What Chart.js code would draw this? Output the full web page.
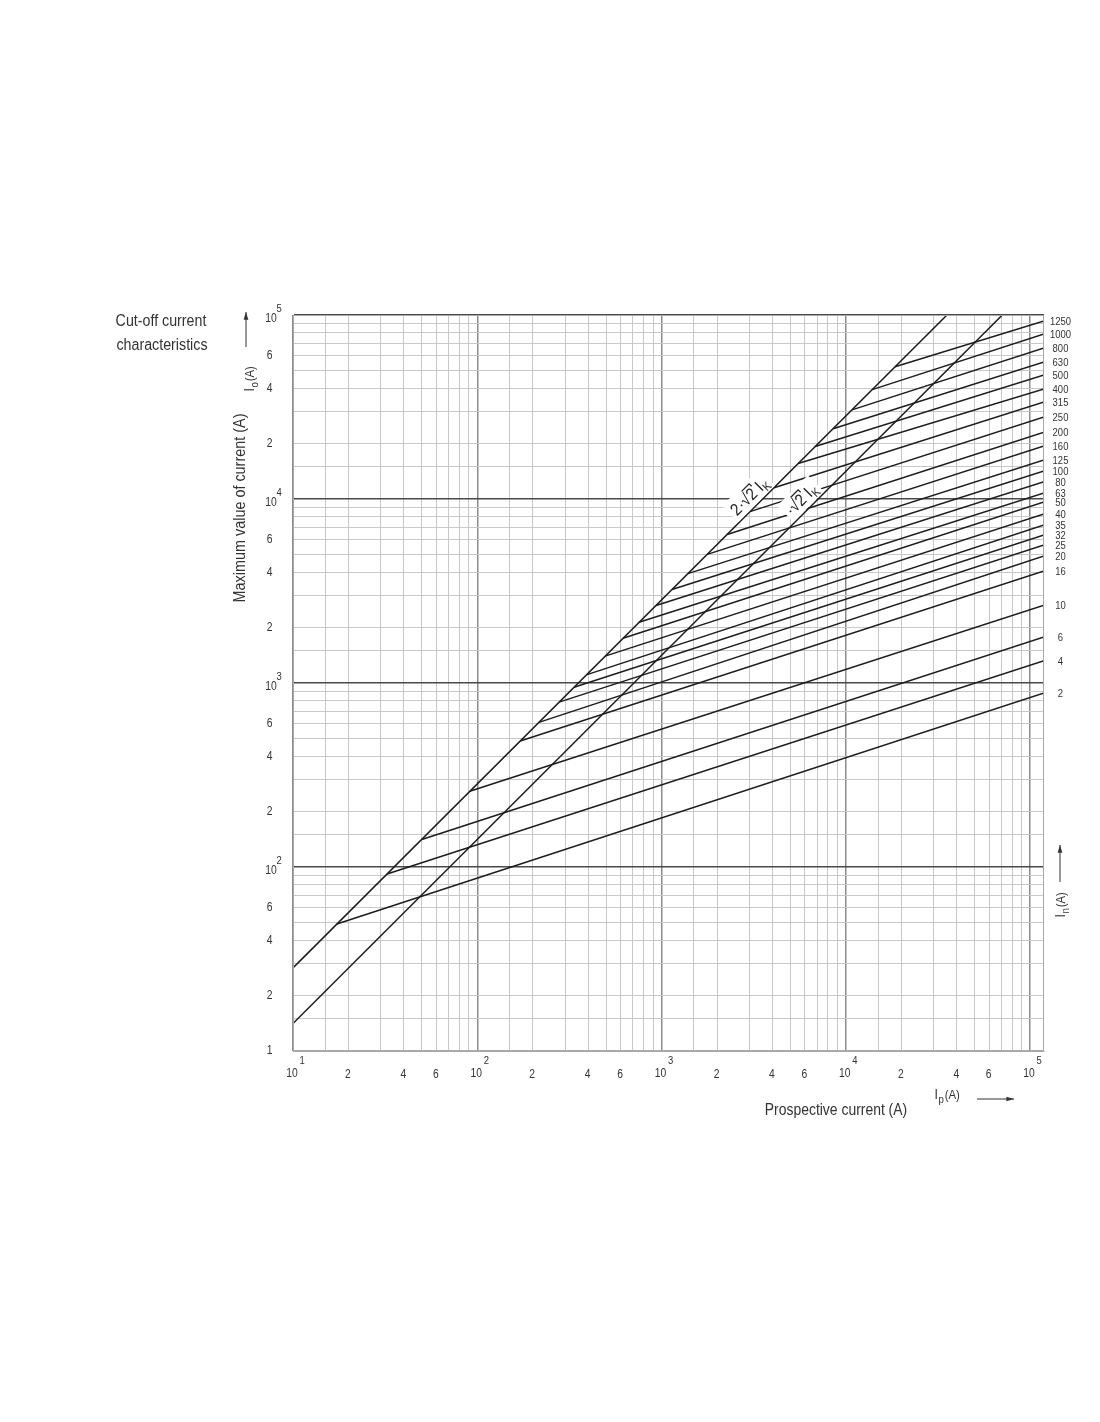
<!DOCTYPE html>
<html>
<head>
<meta charset="utf-8">
<script src="https://cdn.jsdelivr.net/npm/chart.js@4.4.1/dist/chart.umd.min.js"></script>
<style>
  html, body { margin: 0; padding: 0; background: #fff; }
</style>
</head>
<body>
<canvas id="myChart" width="1100" height="1422"></canvas>
<script>
// rated currents In (A), top to bottom as labelled on the right
const ratings = ['1250', '1000', '800', '630', '500', '400', '315', '250', '200', '160', '125',
  '100', '80', '63', '50', '40', '35', '32', '25', '20', '16', '10', '6', '4', '2'];

// where each cut-off line leaves the 2·√2·Ik line (prospective A, cut-off A)
const startIp = [18500, 13900, 10800, 8530, 6810, 5510, 4080, 3020, 2270, 1770, 1390,
  1140, 934, 755, 618, 494, 394, 335, 278, 216, 171, 91, 50, 32.4, 17.3];
const startIo = [52300, 39300, 30500, 24100, 19300, 15600, 11500, 8540, 6420, 5000, 3930,
  3220, 2640, 2140, 1750, 1400, 1110, 948, 787, 611, 484, 258, 141, 91.6, 49];

// cut-off current at the right edge of the grid
const endIp = 119000;
const endIo = [92700, 78900, 66200, 55600, 47200, 39600, 33700, 27900, 23100, 19400, 16300,
  14200, 12400, 10800, 9630, 8290, 7220, 6370, 5620, 4900, 4060, 2650, 1780, 1320, 883];

// the two peak lines
const diagIp1 = [10, 35400];      // 2·√2·Ik
const diagIo1 = [28.3, 100000];
const diagIp2 = [10, 70700];      // √2·Ik
const diagIo2 = [14.1, 100000];

// grid and tick labels
const decades = [10, 100, 1000, 10000];
const gridSteps = [1, 1.5, 2, 3, 4, 5, 6, 7, 8, 9];
const gridTicks = decades.flatMap(d => gridSteps.map(m => m * d)).concat([100000]);
const labelTicks = [10, 20, 40, 60, 100, 200, 400, 600, 1000, 2000, 4000, 6000,
  10000, 20000, 40000, 60000, 100000];
const xTickText = ['10|1', '2', '4', '6', '10|2', '2', '4', '6', '10|3', '2', '4', '6',
  '10|4', '2', '4', '6', '10|5'];
const yTickText = ['1', '2', '4', '6', '10|2', '2', '4', '6', '10|3', '2', '4', '6',
  '10|4', '2', '4', '6', '10|5'];

const FONT = "'Liberation Sans', Arial, sans-serif";
const INK = '#333';

const isDecade = v => Math.abs(Math.log10(v) - Math.round(Math.log10(v))) < 1e-9;

// text squeezed horizontally to look like a condensed face
function txt(ctx, s, x, y, size, align, sx) {
  ctx.save();
  ctx.translate(x, y);
  ctx.scale(sx || 0.86, 1);
  ctx.font = size + 'px ' + FONT;
  ctx.textAlign = align || 'center';
  ctx.textBaseline = 'middle';
  ctx.fillText(s, 0, 0);
  ctx.restore();
}

function arrow(ctx, x1, y1, x2, y2) {
  const a = Math.atan2(y2 - y1, x2 - x1);
  ctx.beginPath();
  ctx.moveTo(x1, y1);
  ctx.lineTo(x2, y2);
  ctx.stroke();
  ctx.beginPath();
  ctx.moveTo(x2, y2);
  ctx.lineTo(x2 - 8 * Math.cos(a - 0.3), y2 - 8 * Math.sin(a - 0.3));
  ctx.lineTo(x2 - 8 * Math.cos(a + 0.3), y2 - 8 * Math.sin(a + 0.3));
  ctx.closePath();
  ctx.fill();
}

// "I" with subscript, then "(A)"
function unitLabel(ctx, sub, x, y) {
  ctx.save();
  ctx.translate(x, y);
  ctx.scale(0.88, 1);
  ctx.font = '14px ' + FONT;
  const wI = ctx.measureText('I').width;
  ctx.font = '11px ' + FONT;
  const wS = ctx.measureText(sub).width;
  ctx.font = '13px ' + FONT;
  const wA = ctx.measureText('(A)').width;
  const x0 = -(wI + wS + wA + 1) / 2;
  ctx.textAlign = 'left';
  ctx.textBaseline = 'alphabetic';
  ctx.font = '14px ' + FONT;
  ctx.fillText('I', x0, 4);
  ctx.font = '11px ' + FONT;
  ctx.fillText(sub, x0 + wI + 0.5, 8);
  ctx.font = '13px ' + FONT;
  ctx.fillText('(A)', x0 + wI + wS + 1.5, 4);
  ctx.restore();
}

function rootLabel(ctx, prefix, x, y) {
  ctx.save();
  ctx.translate(x, y);
  ctx.rotate(-Math.PI / 4);
  ctx.scale(0.9, 1);
  ctx.font = '17px ' + FONT;
  const wP = ctx.measureText(prefix + '√').width;
  const w2 = ctx.measureText('2').width;
  const wI = ctx.measureText(' I').width;
  ctx.font = '12px ' + FONT;
  const wK = ctx.measureText('K').width;
  const w = wP + w2 + wI + wK;
  ctx.fillStyle = '#fff';
  ctx.fillRect(-w / 2 - 3, -12, w + 6, 23);
  ctx.fillStyle = '#222';
  ctx.strokeStyle = '#222';
  ctx.lineWidth = 1.3;
  ctx.textAlign = 'left';
  ctx.textBaseline = 'alphabetic';
  const x0 = -w / 2;
  ctx.font = '17px ' + FONT;
  ctx.fillText(prefix + '√2 I', x0, 6);
  ctx.beginPath();
  ctx.moveTo(x0 + wP - 1, -8.5);
  ctx.lineTo(x0 + wP + w2 + 1.5, -8.5);
  ctx.lineTo(x0 + wP + w2 + 1.5, -5);
  ctx.stroke();
  ctx.font = '12px ' + FONT;
  ctx.fillText('K', x0 + wP + w2 + wI, 10);
  ctx.restore();
}

const annotate = {
  id: 'annotate',
  afterDatasetsDraw(chart) {
    const { ctx, chartArea: a, scales: { x, y } } = chart;
    ctx.save();

    // outer frame
    ctx.strokeStyle = '#a8a8a8';
    ctx.lineWidth = 1;
    ctx.strokeRect(a.left + 0.5, a.top + 0.5, a.right - a.left - 1, a.bottom - a.top - 1);

    // labels on the two peak lines
    rootLabel(ctx, '2·', 749, 496);
    rootLabel(ctx, '·', 801, 499);

    ctx.fillStyle = INK;
    ctx.strokeStyle = INK;

    // y tick labels
    labelTicks.forEach((v, i) => {
      const py = y.getPixelForValue(v);
      const s = yTickText[i];
      if (s.includes('|')) {
        const [b, e] = s.split('|');
        txt(ctx, b, 271, py + 4, 12);
        txt(ctx, e, 276.5, py - 6, 11, 'left');
      } else {
        txt(ctx, s, 269.5, py, 12);
      }
    });

    // x tick labels
    labelTicks.forEach((v, i) => {
      const px = x.getPixelForValue(v);
      const s = xTickText[i];
      if (s.includes('|')) {
        const [b, e] = s.split('|');
        txt(ctx, b, px - 1, 1074, 12);
        txt(ctx, e, px + 6.5, 1061, 11, 'left');
      } else {
        txt(ctx, s, px - 0.5, 1075, 12);
      }
    });

    // rated current labels at the right end of each line
    ratings.forEach((r, i) => {
      txt(ctx, r, 1060.5, y.getPixelForValue(endIo[i]) + 1, 11);
    });

    // titles
    txt(ctx, 'Cut-off current', 161, 322, 16, 'center', 0.89);
    txt(ctx, 'characteristics', 162, 346, 16, 'center', 0.89);
    txt(ctx, 'Prospective current (A)', 836, 1111, 16, 'center', 0.87);

    ctx.save();
    ctx.translate(241, 508);
    ctx.rotate(-Math.PI / 2);
    txt(ctx, 'Maximum value of current (A)', 0, 0, 16, 'center', 0.9);
    ctx.restore();

    // Io(A) with arrow
    ctx.lineWidth = 1;
    arrow(ctx, 246, 347, 246, 312);
    ctx.save();
    ctx.translate(250, 379);
    ctx.rotate(-Math.PI / 2);
    unitLabel(ctx, 'o', 0, 0);
    ctx.restore();

    // In(A) with arrow
    arrow(ctx, 1060, 882, 1060, 845);
    ctx.save();
    ctx.translate(1061, 905);
    ctx.rotate(-Math.PI / 2);
    unitLabel(ctx, 'n', 0, 0);
    ctx.restore();

    // Ip(A) with arrow
    unitLabel(ctx, 'p', 947, 1095);
    arrow(ctx, 977, 1099, 1014, 1099);

    ctx.restore();
  }
};

const lineStyle = {
  showLine: true,
  pointRadius: 0,
  borderColor: '#1c1c1c',
  borderWidth: 1.5,
  fill: false
};

const datasets = [
  Object.assign({ label: '2√2 Ik', data: diagIp1.map((v, i) => ({ x: v, y: diagIo1[i] })) }, lineStyle),
  Object.assign({ label: '√2 Ik', data: diagIp2.map((v, i) => ({ x: v, y: diagIo2[i] })) }, lineStyle)
];
ratings.forEach((r, i) => {
  datasets.push(Object.assign({
    label: r + ' A',
    data: [{ x: startIp[i], y: startIo[i] }, { x: endIp, y: endIo[i] }]
  }, lineStyle));
});

const gridColor = horizontal => c => {
  if (!c.tick) return '#c8c8c8';
  if (isDecade(c.tick.value)) return horizontal ? '#4a4a4a' : '#8c8c8c';
  return '#c8c8c8';
};
const gridWidth = c => (c.tick && isDecade(c.tick.value) ? 1.5 : 1);

new Chart(document.getElementById('myChart'), {
  type: 'scatter',
  data: { datasets: datasets },
  plugins: [annotate],
  options: {
    responsive: false,
    animation: false,
    layout: { padding: { left: 293, top: 315, right: 56, bottom: 371 } },
    plugins: {
      legend: { display: false },
      tooltip: { enabled: false }
    },
    scales: {
      x: {
        type: 'logarithmic',
        min: 10,
        max: endIp,
        afterBuildTicks: s => { s.ticks = gridTicks.map(v => ({ value: v })); },
        ticks: { display: false },
        grid: { color: gridColor(false), lineWidth: gridWidth, drawTicks: false },
        border: { display: true, color: '#a8a8a8' }
      },
      y: {
        type: 'logarithmic',
        min: 10,
        max: 100000,
        afterBuildTicks: s => { s.ticks = gridTicks.map(v => ({ value: v })); },
        ticks: { display: false },
        grid: { color: gridColor(true), lineWidth: gridWidth, drawTicks: false },
        border: { display: true, color: '#a8a8a8' }
      }
    }
  }
});
</script>
</body>
</html>
